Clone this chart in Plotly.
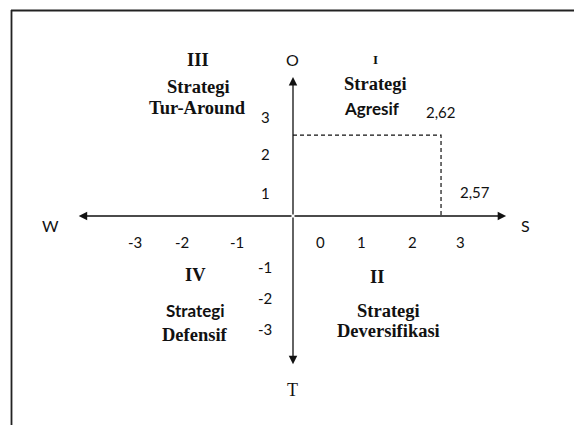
import plotly.graph_objects as go

# ---- data ----
s_score = 2.57          # internal (strength) score on the S axis
o_score = 2.62          # external (opportunity) score on the O axis
x_ticks = [-3, -2, -1, 0, 1, 2, 3]
y_ticks = [3, 2, 1, -1, -2, -3]
axis_names = {"up": "O", "down": "T", "left": "W", "right": "S"}
quadrants = [
    ["III", "Strategi", "Tur-Around"],
    ["I", "Strategi", "Agresif"],
    ["IV", "Strategi", "Defensif"],
    ["II", "Strategi", "Deversifikasi"],
]

# ---- geometry / style (pixels) ----
W, H = 574, 425
X0, Y0 = 293, 216          # pixel of origin
SX, SY = 57.6, 30.9        # px per unit
x_range = [-X0 / SX, (W - X0) / SX]
y_range = [(Y0 - H) / SY, Y0 / SY]
AX_X = [-3.72, 3.70]
AX_Y = [-4.80, 4.50]
# hand-drawn diagram: small label nudges (pixels)
x_label_nudge = {-3: 15, -2: 4, -1: 2, 0: 27, 1: 11, 2: 4, 3: -5}
y_label_nudge = {3: 6, 2: 0, 1: -8, -1: -20, -2: -20, -3: -20}

def px(x):
    return x / W

def py(y):
    return 1 - y / H

SERIF = "Liberation Serif"
SANS = "Lato"
BLACK = "#111111"

fig = go.Figure()

# dashed guide lines to the position point
fig.add_trace(go.Scatter(
    x=[0, s_score, s_score], y=[o_score, o_score, 0],
    mode="lines", line=dict(color=BLACK, width=1.2, dash="4px,3px"),
    hoverinfo="skip", showlegend=False))

ann = []
# axis arrows
for (hx, hy) in [(AX_X[0], 0), (AX_X[1], 0), (0, AX_Y[0]), (0, AX_Y[1])]:
    ann.append(dict(x=hx, y=hy, ax=0, ay=0, xref="x", yref="y", axref="x", ayref="y",
                    text="", showarrow=True, arrowhead=2, arrowsize=1.3, arrowwidth=1.3,
                    arrowcolor=BLACK, standoff=0, startstandoff=0))

# tick labels
for t in x_ticks:
    ann.append(dict(x=t, y=0, xref="x", yref="y", text=str(t), showarrow=False,
                    yshift=-26, xshift=x_label_nudge[t],
                    font=dict(family=SANS, size=15, color=BLACK)))
for t in y_ticks:
    ann.append(dict(x=0, y=t, xref="x", yref="y", text=str(t), showarrow=False,
                    xshift=-28, yshift=y_label_nudge[t],
                    font=dict(family=SANS, size=15, color=BLACK)))

# point values
ann.append(dict(x=s_score, y=o_score, xref="x", yref="y", text=f"{o_score:.2f}".replace(".", ","),
                showarrow=False, yshift=23, font=dict(family=SANS, size=15, color=BLACK)))
ann.append(dict(x=s_score, y=0, xref="x", yref="y", text=f"{s_score:.2f}".replace(".", ","),
                showarrow=False, xshift=34, yshift=24, font=dict(family=SANS, size=15, color=BLACK)))

# text helper (pixel positions on the page)
def txt(x, y, s, fam, size, bold=False):
    ann.append(dict(x=px(x), y=py(y), xref="paper", yref="paper",
                    text=f"<b>{s}</b>" if bold else s, showarrow=False,
                    xanchor="center", yanchor="middle",
                    font=dict(family=fam, size=size, color=BLACK)))

txt(292, 60, axis_names["up"], SANS, 16)
txt(292, 390, axis_names["down"], SERIF, 18)
txt(50, 225, axis_names["left"], SANS, 16)
txt(525, 225, axis_names["right"], SANS, 16)

# quadrant labels
q_pos = [
    [(198, 60), (198, 87), (197, 108)],
    [(376, 60), (375, 84), (372, 108)],
    [(195, 275), (195, 310), (195, 335)],
    [(377, 277), (388, 311), (388, 331)],
]
q_font = [
    [SERIF, SERIF, SERIF],
    [SERIF, SERIF, SANS],
    [SERIF, SANS, SERIF],
    [SERIF, SERIF, SERIF],
]
for labels, poss, fams in zip(quadrants, q_pos, q_font):
    for lab, (x, y), fam in zip(labels, poss, fams):
        size = 18.5 if fam == SERIF else 17
        if lab == "I":
            size = 13
        txt(x, y, lab, fam, size, bold=True)

# frame lines
shapes = [
    dict(type="line", xref="paper", yref="paper", x0=px(11), y0=py(10.5), x1=1, y1=py(10.5),
         line=dict(color="#222222", width=1.8)),
    dict(type="line", xref="paper", yref="paper", x0=px(11.5), y0=py(10), x1=px(11.5), y1=0,
         line=dict(color="#222222", width=1.8)),
]

fig.update_layout(
    width=W, height=H, autosize=False,
    margin=dict(l=0, r=0, t=0, b=0),
    paper_bgcolor="white", plot_bgcolor="white",
    xaxis=dict(range=x_range, visible=False, fixedrange=True),
    yaxis=dict(range=y_range, visible=False, fixedrange=True),
    annotations=ann, shapes=shapes, showlegend=False,
)

fig.write_html("out.html", config={"displayModeBar": False},
               post_script="document.body.style.margin='0';document.body.style.overflow='hidden';")
